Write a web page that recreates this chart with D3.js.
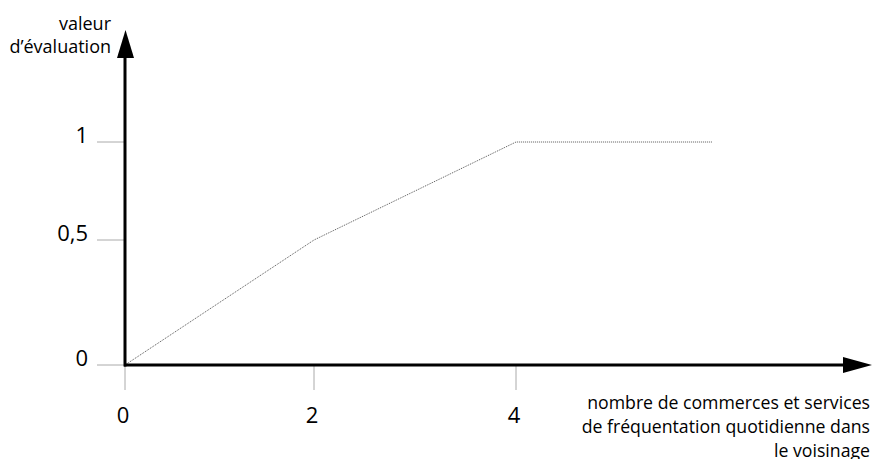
<!DOCTYPE html>
<html><head><meta charset="utf-8">
<script src="https://cdn.jsdelivr.net/npm/d3@7"></script>
<style>body{margin:0;background:#fff}svg{display:block}text{font-family:"Open Sans",sans-serif;fill:#000}</style>
</head><body><svg id="c" width="873" height="459"></svg>
<script>
const xValues = [0, 2, 4, 6];
const yValues = [0, 0.5, 1, 1];
const xTicks = [0, 2, 4];
const xTickLabels = ["0", "2", "4"];
const yTicks = [0, 0.5, 1];
const yTickLabels = ["0", "0,5", "1"];
const yTitle = ["valeur", "d\u2019évaluation"];
const xTitle = ["nombre de commerces et services", "de fréquentation quotidienne dans", "le voisinage"];

const svg = d3.select("#c");
const x = d3.scaleLinear().domain([0, 2, 4, 6]).range([125, 314, 516, 712]);
const y = d3.scaleLinear().domain([0, 0.5, 1]).range([365, 240, 142]);

// y ticks
const yt = svg.append("g");
yt.selectAll("line").data(yTicks).join("line")
  .attr("x1", 97).attr("x2", 125).attr("y1", d => y(d)).attr("y2", d => y(d))
  .attr("stroke", "#aaa").attr("stroke-width", 1);
yt.selectAll("text").data(yTicks).join("text")
  .attr("x", 88).attr("y", d => y(d) + 0.5).attr("text-anchor", "end")
  .style("font-size", "22px").text((d, i) => yTickLabels[i]);

// x ticks
const xt = svg.append("g");
xt.selectAll("line").data(xTicks).join("line")
  .attr("x1", d => x(d)).attr("x2", d => x(d)).attr("y1", 365).attr("y2", 390)
  .attr("stroke", "#aaa").attr("stroke-width", 1);
xt.selectAll("text").data(xTicks).join("text")
  .attr("x", d => x(d) - 2).attr("y", 423).attr("text-anchor", "middle")
  .style("font-size", "22px").text((d, i) => xTickLabels[i]);

// data line
const pts = xValues.map((v, i) => [v, yValues[i]]);
svg.append("path").datum(pts)
  .attr("d", d3.line().x(d => x(d[0])).y(d => y(d[1])))
  .attr("fill", "none").attr("stroke", "#555").attr("stroke-width", 1)
  .attr("stroke-dasharray", "1,1");

// axes
svg.append("line").attr("x1", 125).attr("x2", 125).attr("y1", 366.5).attr("y2", 55)
  .attr("stroke", "#000").attr("stroke-width", 3);
svg.append("path").attr("d", "M117,58 L125.5,30 L134,58 Z").attr("fill", "#000");
svg.append("line").attr("x1", 124).attr("x2", 846).attr("y1", 365).attr("y2", 365)
  .attr("stroke", "#000").attr("stroke-width", 3);
svg.append("path").attr("d", "M843,357 L872,365 L843,373 Z").attr("fill", "#000");

// titles
svg.append("g").selectAll("text").data(yTitle).join("text")
  .attr("x", 111).attr("y", (d, i) => 30 + i * 23).attr("text-anchor", "end")
  .style("font-size", "18px").text(d => d);
svg.append("g").selectAll("text").data(xTitle).join("text")
  .attr("x", 870).attr("y", (d, i) => 409 + i * 24).attr("text-anchor", "end")
  .style("font-size", "17.7px").text(d => d);
</script></body></html>
